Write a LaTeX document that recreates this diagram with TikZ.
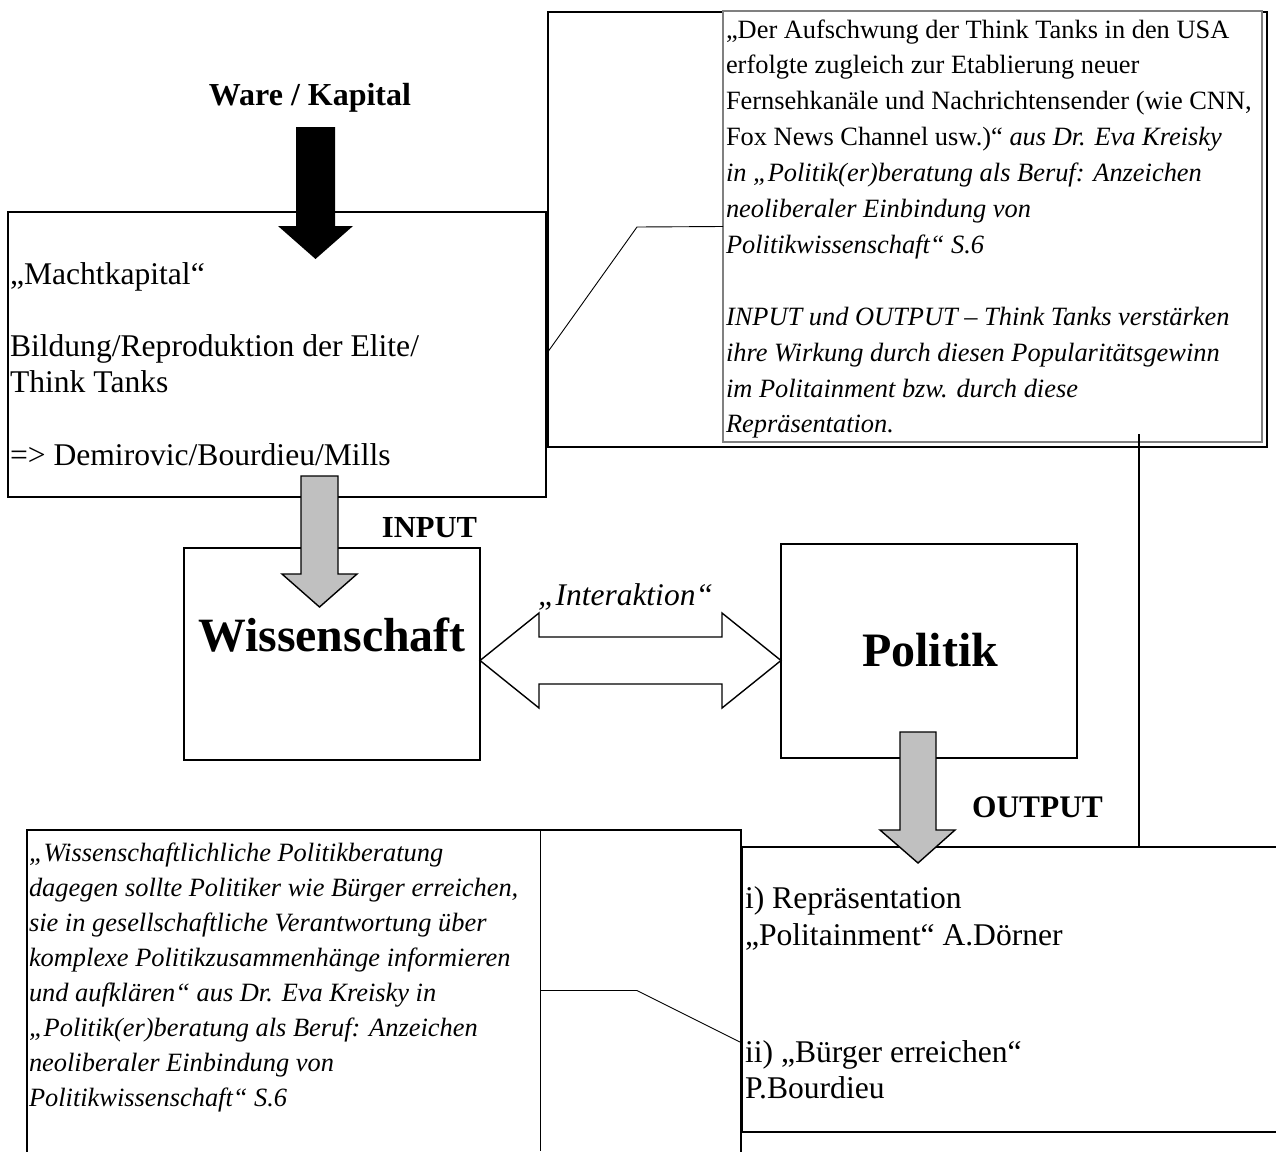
\documentclass[tikz,border=0pt]{standalone}
\usepackage{fontspec}
\setmainfont{Liberation Serif}
\usetikzlibrary{calc}
\definecolor{silver}{HTML}{C0C0C0}
\definecolor{boxgray}{HTML}{808080}
\newcommand{\txtlines}[2]{\vtop{\baselineskip=#1\lineskiplimit=-1000pt\lineskip=0pt\relax #2}}
\begin{document}
\begin{tikzpicture}[x=1pt,y=-1pt,
  frame/.style={draw=black, line width=2.5pt, inner sep=0pt, outer sep=0pt},
  quotebox/.style={draw=boxgray, line width=1.2pt, inner sep=0pt, outer sep=0pt},
  ghost/.style={inner sep=0pt, outer sep=0pt},
  txt/.style={anchor=base west, inner sep=0pt, outer sep=0pt},
  lbl/.style={anchor=base, inner sep=0pt, outer sep=0pt},
  bigtext/.style={font=\fontsize{31.6}{36}\selectfont},
  smalltext/.style={font=\fontsize{26.4}{36}\selectfont},
  blockarrow/.style={draw=black, line width=1.4pt, line join=miter},
  leader/.style={draw=black, line width=0.9pt}]

\useasboundingbox[fill=white] (0,0) rectangle (1276,1151);

% ---------- boxes ----------
\node[frame, minimum width=538pt, minimum height=285pt] (macht) at (277,354.5) {};
\node[frame, minimum width=719pt, minimum height=435pt] (trouter) at (907.5,229.5) {};
\node[quotebox, fill=white, minimum width=539pt, minimum height=431pt] (trq) at (992.5,226.5) {};
\node[frame, minimum width=296pt, minimum height=212pt] (wiss) at (332,654) {};
\node[frame, minimum width=296pt, minimum height=214pt] (pol) at (929,651) {};

% bottom-left open box
\node[ghost, minimum width=513pt, minimum height=321pt] (blq) at (283.5,990.5) {};
\coordinate (blTL) at (27,830);
\coordinate (blTR) at (741,830);
\draw[line width=2.5pt] (27,1160) -- (blTL) -- (blTR) -- (741,1160);
\draw[line width=1pt] (blq.north east) -- (blq.south east);

% bottom-right open box
\coordinate (brTL) at (742,847);
\coordinate (brBL) at (742,1132);
\draw[line width=2.5pt] (1285,847) -- (brTL) -- (brBL) -- (1285,1132);

% ---------- connectors ----------
\coordinate (k1) at (637,227);
\draw[leader] (macht.east) -- (k1) -- (trq.west);
\coordinate (k2) at (637,990.5);
\coordinate (k3) at (740,1042);
\draw[leader] (blq.east) -- (k2) -- (k3);
\coordinate (vt) at (1139,434);
\coordinate (vb) at (1139,847);
\draw[line width=1.5pt] (vt) -- (vb);

% ---------- block arrows ----------
\fill[black] (296,127) -- (335,127) -- (335,226) -- (353,226) -- (315.5,259) -- (278,226) -- (296,226) -- cycle;
\filldraw[blockarrow, fill=silver] (301,476) -- (338,476) -- (338,574) -- (357,574) -- (319.5,607) -- (282,574) -- (301,574) -- cycle;
\filldraw[blockarrow, fill=silver] (900,732) -- (936,732) -- (936,830) -- (955,830) -- (918,863) -- (880,830) -- (900,830) -- cycle;
\filldraw[blockarrow, fill=white] (480,660.5) -- (539,613) -- (539,637) -- (722,637) -- (722,613) -- (781,660.5) -- (722,708) -- (722,684) -- (539,684) -- (539,708) -- cycle;

% ---------- labels ----------
\node[lbl, font=\bfseries\fontsize{32}{36}\selectfont] (ware) at (310,105) {Ware / Kapital};
\node[lbl, font=\bfseries\fontsize{30.6}{36}\selectfont] (inp) at (429.5,537) {INPUT};
\node[lbl, font=\bfseries\fontsize{31.4}{36}\selectfont] (outp) at (1037.5,817) {OUTPUT};
\node[lbl, font=\itshape\fontsize{31.5}{36}\selectfont] (inter) at (625.5,605) {„Interaktion“};
\node[lbl, font=\bfseries\fontsize{47.8}{50}\selectfont] (wisst) at (332,651) {Wissenschaft};
\node[lbl, font=\bfseries\fontsize{48}{50}\selectfont] (polt) at (930,666) {Politik};

% left box text
\node[txt, bigtext] (machtt) at (10,284) {\txtlines{36.2pt}{%
\hbox{„Machtkapital“}
\hbox{}
\hbox{Bildung/Reproduktion der Elite/}
\hbox{Think Tanks}
\hbox{}
\hbox{=> Demirovic/Bourdieu/Mills}}};

% top right quote text
\node[txt, smalltext] (trqt) at (726,38) {\txtlines{35.9pt}{%
\hbox{„Der Aufschwung der Think Tanks in den USA}
\hbox{erfolgte zugleich zur Etablierung neuer}
\hbox{Fernsehkanäle und Nachrichtensender (wie CNN,}
\hbox{Fox News Channel usw.)“ \itshape aus Dr. Eva Kreisky}
\hbox{\itshape in „Politik(er)beratung als Beruf: Anzeichen}
\hbox{\itshape neoliberaler Einbindung von}
\hbox{\itshape Politikwissenschaft“ S.6}
\hbox{}
\hbox{\itshape INPUT und OUTPUT – Think Tanks verstärken}
\hbox{\itshape ihre Wirkung durch diesen Popularitätsgewinn}
\hbox{\itshape im Politainment bzw. durch diese}
\hbox{\itshape Repräsentation.}}};

% bottom left quote text
\node[txt, smalltext] (blqt) at (29,861) {\txtlines{35pt}{\itshape
\hbox{„Wissenschaftlichliche Politikberatung}
\hbox{dagegen sollte Politiker wie Bürger erreichen,}
\hbox{sie in gesellschaftliche Verantwortung über}
\hbox{komplexe Politikzusammenhänge informieren}
\hbox{und aufklären“ aus Dr. Eva Kreisky in}
\hbox{„Politik(er)beratung als Beruf: Anzeichen}
\hbox{neoliberaler Einbindung von}
\hbox{Politikwissenschaft“ S.6}}};

% bottom right text
\node[txt, bigtext] (rep) at (745,908) {\txtlines{37pt}{%
\hbox{i) Repräsentation}
\hbox{„Politainment“ A.Dörner}}};
\node[txt, bigtext] (buerger) at (745,1062) {\txtlines{36pt}{%
\hbox{ii) „Bürger erreichen“}
\hbox{P.Bourdieu}}};

\end{tikzpicture}
\end{document}
